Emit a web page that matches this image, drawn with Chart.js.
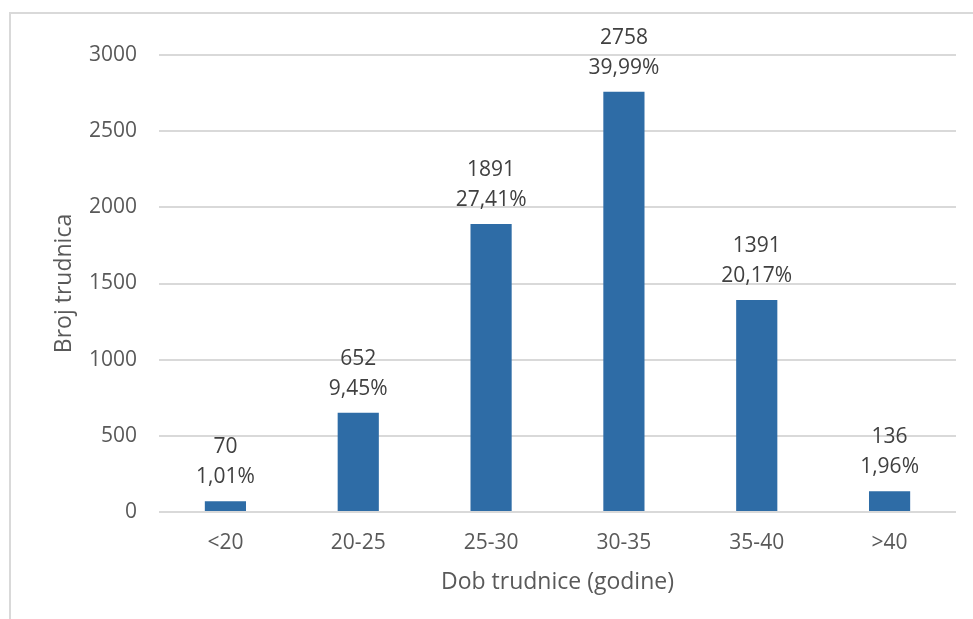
<!DOCTYPE html>
<html>
<head>
<meta charset="utf-8">
<script src="https://cdn.jsdelivr.net/npm/chart.js@4/dist/chart.umd.min.js"></script>
<style>
  html, body { margin: 0; padding: 0; background: #fff; overflow: hidden; }
  #frame { position: absolute; left: 9px; top: 12px; width: 2000px; height: 2000px; border: 2px solid #d9d9d9; box-sizing: border-box; }
  #chart { position: absolute; left: 0; top: 0; }
</style>
</head>
<body>
<div id="frame"></div>
<canvas id="chart" width="973" height="619"></canvas>
<script>
// data
const ageGroups = ['<20', '20-25', '25-30', '30-35', '35-40', '>40'];
const counts = [70, 652, 1891, 2758, 1391, 136];
const shares = ['1,01%', '9,45%', '27,41%', '39,99%', '20,17%', '1,96%'];

const FONT = '"Open Sans", "Liberation Sans", sans-serif';

// two-line labels above every bar: count and share
const barLabels = {
  id: 'barLabels',
  afterDatasetsDraw(chart) {
    const ctx = chart.ctx;
    const meta = chart.getDatasetMeta(0);
    ctx.save();
    ctx.fillStyle = '#404040';
    ctx.font = '21px ' + FONT;
    ctx.textAlign = 'center';
    ctx.textBaseline = 'middle';
    meta.data.forEach((bar, i) => {
      ctx.fillText(String(counts[i]), bar.x, bar.y - 54);
      ctx.fillText(shares[i], bar.x, bar.y - 24);
    });
    ctx.restore();
  }
};

new Chart(document.getElementById('chart'), {
  type: 'bar',
  data: {
    labels: ageGroups,
    datasets: [{
      data: counts,
      backgroundColor: '#2E6CA6',
      categoryPercentage: 1,
      barPercentage: 0.31
    }]
  },
  options: {
    responsive: false,
    animation: false,
    layout: { padding: { top: 55, right: 17, bottom: 0, left: 0 } },
    plugins: { legend: { display: false }, tooltip: { enabled: false } },
    scales: {
      x: {
        grid: { display: false, drawTicks: false },
        border: { display: false },
        ticks: { color: '#595959', font: { family: FONT, size: 21 }, padding: 18, maxRotation: 0 },
        title: {
          display: true, text: 'Dob trudnice (godine)', color: '#595959',
          font: { family: FONT, size: 23, lineHeight: 1.2 }, padding: { top: 0, bottom: 23 }
        },
        afterFit(scale) { scale.height = 619 - 512; }
      },
      y: {
        min: 0, max: 3000,
        ticks: { stepSize: 500, color: '#595959', font: { family: FONT, size: 21 }, padding: 22,
                 callback: v => String(v) },
        grid: { color: '#d9d9d9', lineWidth: 2, drawTicks: false },
        border: { display: false },
        title: {
          display: true, text: 'Broj trudnica', color: '#595959',
          font: { family: FONT, size: 23, lineHeight: 1.2 }, padding: { top: 51, bottom: 0 }
        },
        afterFit(scale) { scale.width = 159; }
      }
    }
  },
  plugins: [barLabels]
});
</script>
</body>
</html>
